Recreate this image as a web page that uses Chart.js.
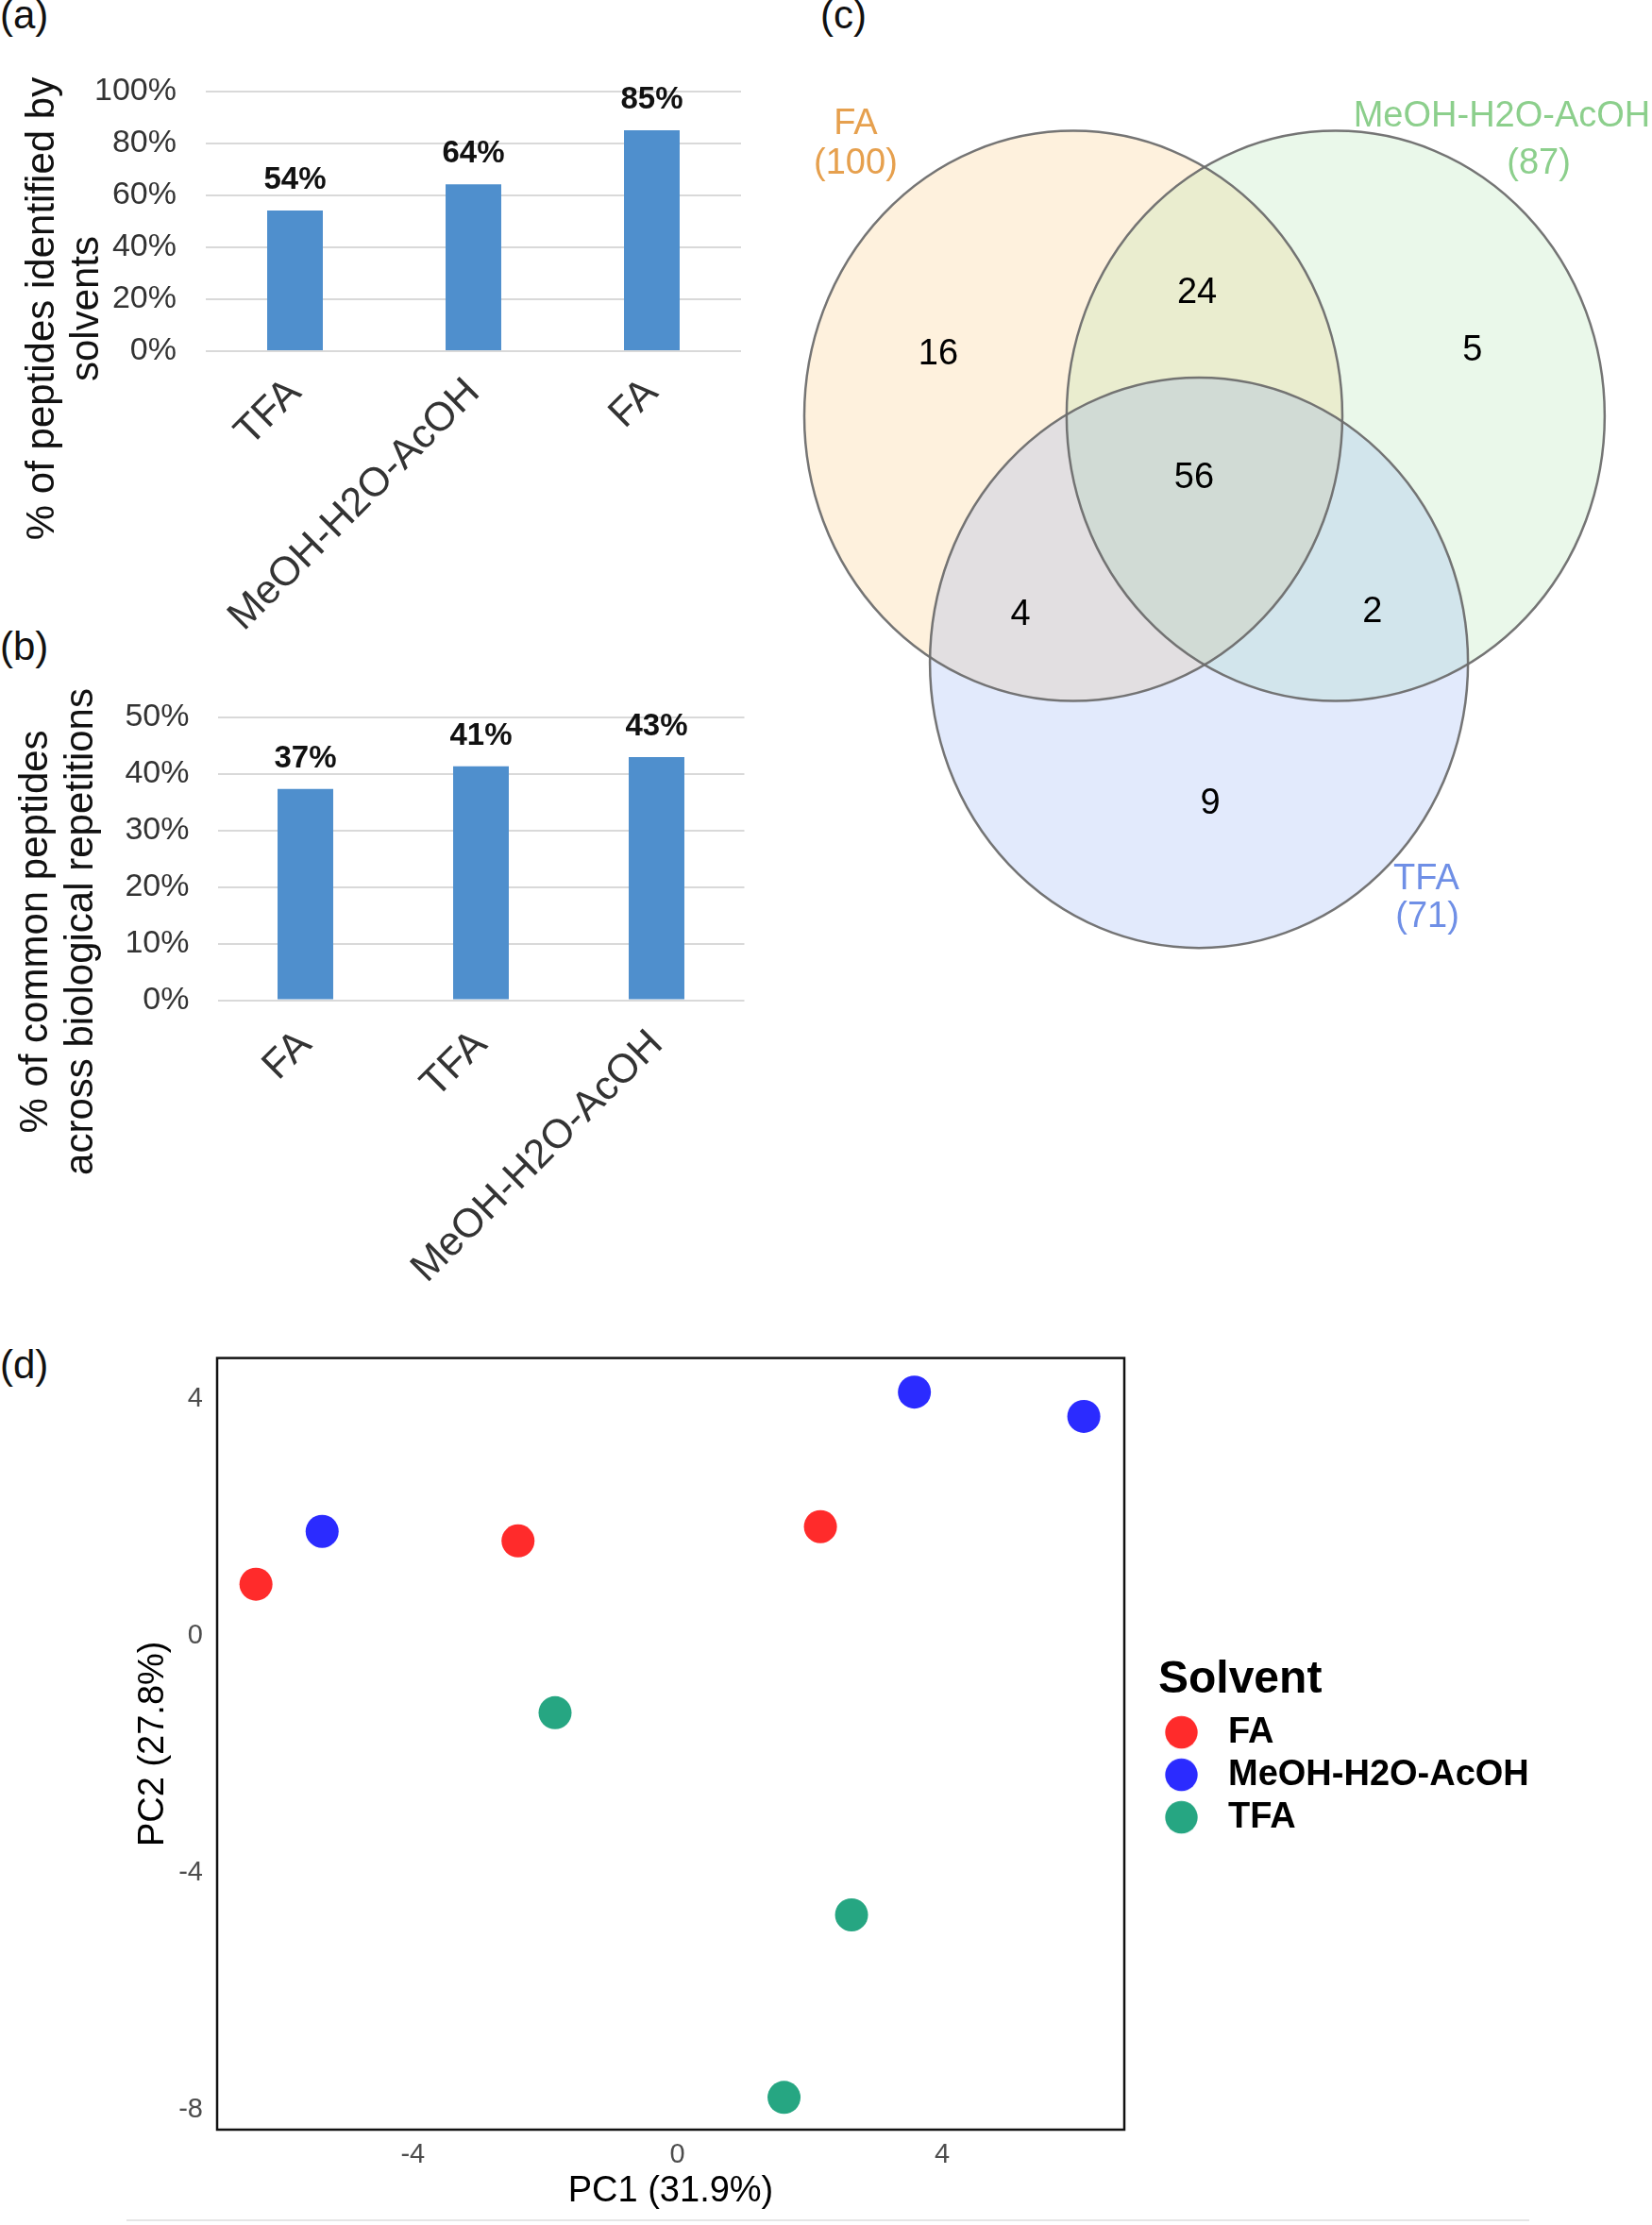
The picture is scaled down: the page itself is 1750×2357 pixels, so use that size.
<!DOCTYPE html>
<html><head><meta charset="utf-8">
<script src="https://cdn.jsdelivr.net/npm/chart.js@4.4.1/dist/chart.umd.min.js"></script>
<style>
html,body{margin:0;padding:0;background:#fff;}
body{width:1750px;height:2357px;position:relative;overflow:hidden;font-family:"Liberation Sans",Arial,sans-serif;}
canvas{position:absolute;display:block;}
.plabel{position:absolute;font-size:42px;line-height:1;color:#111;white-space:nowrap;}
#bottomline{position:absolute;left:134px;top:2351px;width:1486px;height:2px;background:#e6e6e6;}
</style></head><body>
<div class="plabel" style="left:0;top:-5px">(a)</div>
<div class="plabel" style="left:0;top:664px">(b)</div>
<div class="plabel" style="left:869px;top:-5px">(c)</div>
<div class="plabel" style="left:0;top:1425px">(d)</div>
<canvas id="ca" width="840" height="680" style="left:0;top:0;width:840px;height:680px"></canvas>
<canvas id="cb" width="840" height="720" style="left:0;top:660px;width:840px;height:720px"></canvas>
<canvas id="cc" width="910" height="1050" style="left:840px;top:0;width:910px;height:1050px"></canvas>
<canvas id="cd" width="1750" height="977" style="left:0;top:1380px;width:1750px;height:977px"></canvas>
<div id="bottomline"></div>
<script>
// ---------------- DATA ----------------
// (a) % of peptides identified by solvents
const solventsA = ["TFA", "MeOH-H2O-AcOH", "FA"];
const identifiedPct = [54.2, 64.3, 85.1];
const ticksA = [0, 20, 40, 60, 80, 100];
const titleA = ["% of peptides identified by", "solvents"];

// (b) % of common peptides across biological repetitions
const solventsB = ["FA", "TFA", "MeOH-H2O-AcOH"];
const commonPct = [37.3, 41.3, 42.9];
const ticksB = [0, 10, 20, 30, 40, 50];
const titleB = ["% of common peptides", "across biological repetitions"];

// (c) Venn diagram
const vennSets = ["FA", "MeOH-H2O-AcOH", "TFA"];
const vennTotals = [100, 87, 71];
const vennRegions = ["FA only", "FA & MeOH-H2O-AcOH", "MeOH-H2O-AcOH only", "all three", "FA & TFA", "MeOH-H2O-AcOH & TFA", "TFA only"];
const vennCounts = [16, 24, 5, 56, 4, 2, 9];

// (d) PCA scores
const pcaGroups = ["FA", "MeOH-H2O-AcOH", "TFA"];
const faPC1 = [-6.37, -2.41, 2.16];
const faPC2 = [0.87, 1.60, 1.84];
const meohPC1 = [-5.37, 3.58, 6.14];
const meohPC2 = [1.76, 4.11, 3.70];
const tfaPC1 = [-1.85, 2.63, 1.61];
const tfaPC2 = [-1.30, -4.71, -7.79];
const pc1Ticks = [-4, 0, 4];
const pc2Ticks = [-8, -4, 0, 4];
const pc1Title = "PC1 (31.9%)";
const pc2Title = "PC2 (27.8%)";
const legendTitle = "Solvent";

// ---------------- LAYOUT / STYLE ----------------
const FONT = '"Liberation Sans", Arial, sans-serif';
Chart.defaults.font.family = FONT;
const BAR = '#4F8FCD';
const GRID = '#D9D9D9';
const TXT = '#333333';
const PCA_COLORS = ['#FF2B2B', '#2B2BFF', '#26A682'];
// Venn geometry in unit-circle coordinates (layout only)
const VENN = {
  R: 1,
  centers: [[0, 0], [0.975, 0], [0.467, -0.866]],
  fills: ['rgba(250,190,100,0.22)', 'rgba(150,220,150,0.20)', 'rgba(110,150,240,0.20)'],
  textColors: ['#E6A04E', '#8CCF8C', '#6F8FE6'],
  regionPos: [[-0.502, 0.227], [0.460, 0.439], [1.484, 0.240], [0.449, -0.210], [-0.196, -0.687], [1.112, -0.677], [0.509, -1.352]],
  namePos: [[-0.809, 1.032], [1.593, 1.061], [1.312, -1.617]],
  totalPos: [[-0.809, 0.893], [1.730, 0.893], [1.316, -1.747]],
  textDy: 3,
  xRange: [-1.0421, 2.1509],
  yRange: [-2.0179, 1.4589]
};
const PLOT_D_RIGHT = 1191;
const LEGEND_SWATCH_W = 48;

// ---------------- PLUGINS ----------------
const barValueLabels = {
  id: 'barValueLabels',
  afterDatasetsDraw(chart, args, opts) {
    const ctx = chart.ctx;
    const meta = chart.getDatasetMeta(0);
    const vals = chart.data.datasets[0].data;
    ctx.save();
    ctx.font = 'bold 33px ' + FONT;
    ctx.fillStyle = '#111';
    ctx.textAlign = 'center';
    ctx.textBaseline = 'alphabetic';
    meta.data.forEach((bar, i) => ctx.fillText(Math.round(vals[i]) + '%', bar.x, bar.y - opts.gap));
    ctx.restore();
  }
};
const yTitle = {
  id: 'ytitle',
  afterDraw(chart, args, opts) {
    const ctx = chart.ctx;
    ctx.save();
    ctx.font = '42px ' + FONT;
    ctx.fillStyle = '#111';
    ctx.textAlign = 'center';
    ctx.textBaseline = 'middle';
    opts.lines.forEach((t, i) => {
      ctx.save();
      ctx.translate(opts.xs[i], opts.cy);
      ctx.rotate(-Math.PI / 2);
      ctx.fillText(t, 0, 0);
      ctx.restore();
    });
    ctx.restore();
  }
};
const boxBorder = {
  id: 'boxBorder',
  afterDatasetsDraw(chart) {
    const a = chart.chartArea, ctx = chart.ctx;
    ctx.save();
    ctx.strokeStyle = '#111';
    ctx.lineWidth = 2.5;
    ctx.strokeRect(a.left, a.top, a.right - a.left, a.bottom - a.top);
    ctx.restore();
  }
};
const vennPlugin = {
  id: 'venn',
  beforeDatasetsDraw(chart) {
    const ctx = chart.ctx, xs = chart.scales.x, ys = chart.scales.y;
    const ell = [];
    VENN.centers.forEach(c => {
      const cx = xs.getPixelForValue(c[0]), cy = ys.getPixelForValue(c[1]);
      const rx = Math.abs(xs.getPixelForValue(c[0] + VENN.R) - cx);
      const ry = Math.abs(ys.getPixelForValue(c[1] + VENN.R) - cy);
      ell.push([cx, cy, rx, ry]);
    });
    ctx.save();
    ell.forEach((e, i) => {
      ctx.beginPath(); ctx.ellipse(e[0], e[1], e[2], e[3], 0, 0, Math.PI * 2);
      ctx.fillStyle = VENN.fills[i]; ctx.fill();
    });
    ell.forEach(e => {
      ctx.beginPath(); ctx.ellipse(e[0], e[1], e[2], e[3], 0, 0, Math.PI * 2);
      ctx.strokeStyle = 'rgba(110,110,110,0.95)'; ctx.lineWidth = 2.5; ctx.stroke();
    });
    ctx.restore();
  },
  afterDatasetsDraw(chart) {
    const ctx = chart.ctx, xs = chart.scales.x, ys = chart.scales.y;
    const meta = chart.getDatasetMeta(0);
    const dy = VENN.textDy;
    ctx.save();
    ctx.textAlign = 'center';
    ctx.textBaseline = 'middle';
    ctx.font = '38px ' + FONT;
    ctx.fillStyle = '#000';
    meta.data.forEach((pt, i) => ctx.fillText(String(vennCounts[i]), pt.x, pt.y + dy));
    vennSets.forEach((name, i) => {
      ctx.fillStyle = VENN.textColors[i];
      ctx.fillText(name, xs.getPixelForValue(VENN.namePos[i][0]), ys.getPixelForValue(VENN.namePos[i][1]) + dy);
      ctx.fillText('(' + vennTotals[i] + ')', xs.getPixelForValue(VENN.totalPos[i][0]), ys.getPixelForValue(VENN.totalPos[i][1]) + dy);
    });
    ctx.restore();
  }
};

// legend swatch: a dot drawn at the left side of a wider canvas, so the label sits further right
function legendDot(color) {
  const c = document.createElement('canvas');
  c.width = LEGEND_SWATCH_W; c.height = 36;
  const g = c.getContext('2d');
  g.fillStyle = color;
  g.beginPath(); g.arc(17.5, 18, 17.2, 0, Math.PI * 2); g.fill();
  return c;
}

// ---------------- CHARTS ----------------
function barChart(id, labels, values, ticks, L) {
  return new Chart(document.getElementById(id), {
    type: 'bar',
    data: { labels: labels, datasets: [{ label: L.name, data: values, backgroundColor: BAR, categoryPercentage: 1, barPercentage: L.barPct }] },
    options: {
      responsive: false, animation: false, devicePixelRatio: 1,
      layout: { padding: { top: L.top, right: L.right, bottom: 0, left: 0 } },
      plugins: {
        legend: { display: false }, tooltip: { enabled: false },
        barValueLabels: { gap: 23 },
        ytitle: { lines: L.title, xs: L.titleX, cy: 327 }
      },
      scales: {
        x: {
          grid: { display: false, drawTicks: false }, border: { display: false },
          ticks: { minRotation: 45, maxRotation: 45, autoSkip: false, padding: L.xPad, font: { size: 43 }, color: TXT },
          afterFit: s => { s.height = L.xH; }
        },
        y: {
          min: ticks[0], max: ticks[ticks.length - 1],
          afterBuildTicks: s => { s.ticks = ticks.map(v => ({ value: v })); },
          ticks: { callback: v => v + '%', padding: L.yPad, font: { size: 34 }, color: TXT },
          grid: { color: GRID, lineWidth: 2, drawTicks: false }, border: { display: false },
          afterFit: s => { s.width = L.yW; }
        }
      }
    },
    plugins: [barValueLabels, yTitle]
  });
}

barChart('ca', solventsA, identifiedPct, ticksA,
  { name: 'identified', barPct: 0.312, top: 97, right: 55, xH: 308, yW: 218, yPad: 31, xPad: 19, title: titleA, titleX: [45, 92] });
barChart('cb', solventsB, commonPct, ticksB,
  { name: 'common', barPct: 0.317, top: 99.5, right: 51.5, xH: 320.5, yW: 230.5, yPad: 30, xPad: 22, title: titleB, titleX: [38, 86.5] });

new Chart(document.getElementById('cc'), {
  type: 'scatter',
  data: { datasets: [{ label: 'Venn regions', data: VENN.regionPos.map(p => ({ x: p[0], y: p[1] })), pointRadius: 0, pointHoverRadius: 0 }] },
  options: {
    responsive: false, animation: false, devicePixelRatio: 1,
    layout: { padding: 0 },
    plugins: { legend: { display: false }, tooltip: { enabled: false } },
    scales: {
      x: { type: 'linear', display: false, min: VENN.xRange[0], max: VENN.xRange[1] },
      y: { type: 'linear', display: false, min: VENN.yRange[0], max: VENN.yRange[1] }
    }
  },
  plugins: [vennPlugin]
});

const pcaSets = [[faPC1, faPC2], [meohPC1, meohPC2], [tfaPC1, tfaPC2]];
const dChart = new Chart(document.getElementById('cd'), {
  type: 'scatter',
  data: {
    datasets: pcaGroups.map((g, k) => ({
      label: g,
      data: pcaSets[k][0].map((x, i) => ({ x: x, y: pcaSets[k][1][i] })),
      backgroundColor: PCA_COLORS[k], borderColor: PCA_COLORS[k], borderWidth: 0,
      pointRadius: 17.5, pointHoverRadius: 17.5, pointStyle: 'circle'
    }))
  },
  options: {
    responsive: false, animation: false, devicePixelRatio: 1,
    layout: { padding: { top: 58.6, right: 300, bottom: 0, left: 0 } },
    plugins: {
      tooltip: { enabled: false },
      legend: {
        display: true, position: 'right', align: 'center', fullSize: false, maxWidth: 520,
        title: { display: true, text: legendTitle, position: 'start', color: '#000', font: { size: 48, weight: 'bold' }, padding: { top: 12, bottom: -4 } },
        labels: {
          usePointStyle: true, pointStyleWidth: LEGEND_SWATCH_W, boxHeight: 24, padding: 7, color: '#000', font: { size: 38, weight: 'bold' },
          generateLabels: chart => Chart.defaults.plugins.legend.labels.generateLabels(chart)
            .map((l, i) => Object.assign(l, { pointStyle: legendDot(PCA_COLORS[i]) }))
        }
      }
    },
    scales: {
      x: {
        type: 'linear', min: -6.957, max: 6.752,
        afterBuildTicks: s => { s.ticks = pc1Ticks.map(v => ({ value: v })); },
        ticks: { font: { size: 29 }, color: '#4D4D4D', padding: 10 },
        grid: { display: false, drawTicks: false }, border: { display: false },
        title: { display: true, text: pc1Title, color: '#000', font: { size: 38 }, padding: { top: 0, bottom: 13 } },
        afterFit: s => { s.height = 101; }
      },
      y: {
        type: 'linear', min: -8.334, max: 4.685,
        afterBuildTicks: s => { s.ticks = pc2Ticks.map(v => ({ value: v })); },
        ticks: { font: { size: 29 }, color: '#4D4D4D', padding: 15 },
        grid: { display: false, drawTicks: false }, border: { display: false },
        title: { display: true, text: pc2Title, color: '#000', font: { size: 38 }, padding: { top: 140, bottom: 0 } },
        afterFit: s => { s.width = 230; }
      },
      ySpacer: {
        type: 'linear', position: 'right', display: true,
        grid: { display: false, drawTicks: false }, border: { display: false }, ticks: { display: false },
        afterFit: s => { s.width = 36; }
      }
    }
  },
  plugins: [boxBorder]
});
const dDiff = dChart.chartArea.right - PLOT_D_RIGHT;
dChart.options.layout.padding.right += dDiff;
dChart.update();
</script>
</body></html>
